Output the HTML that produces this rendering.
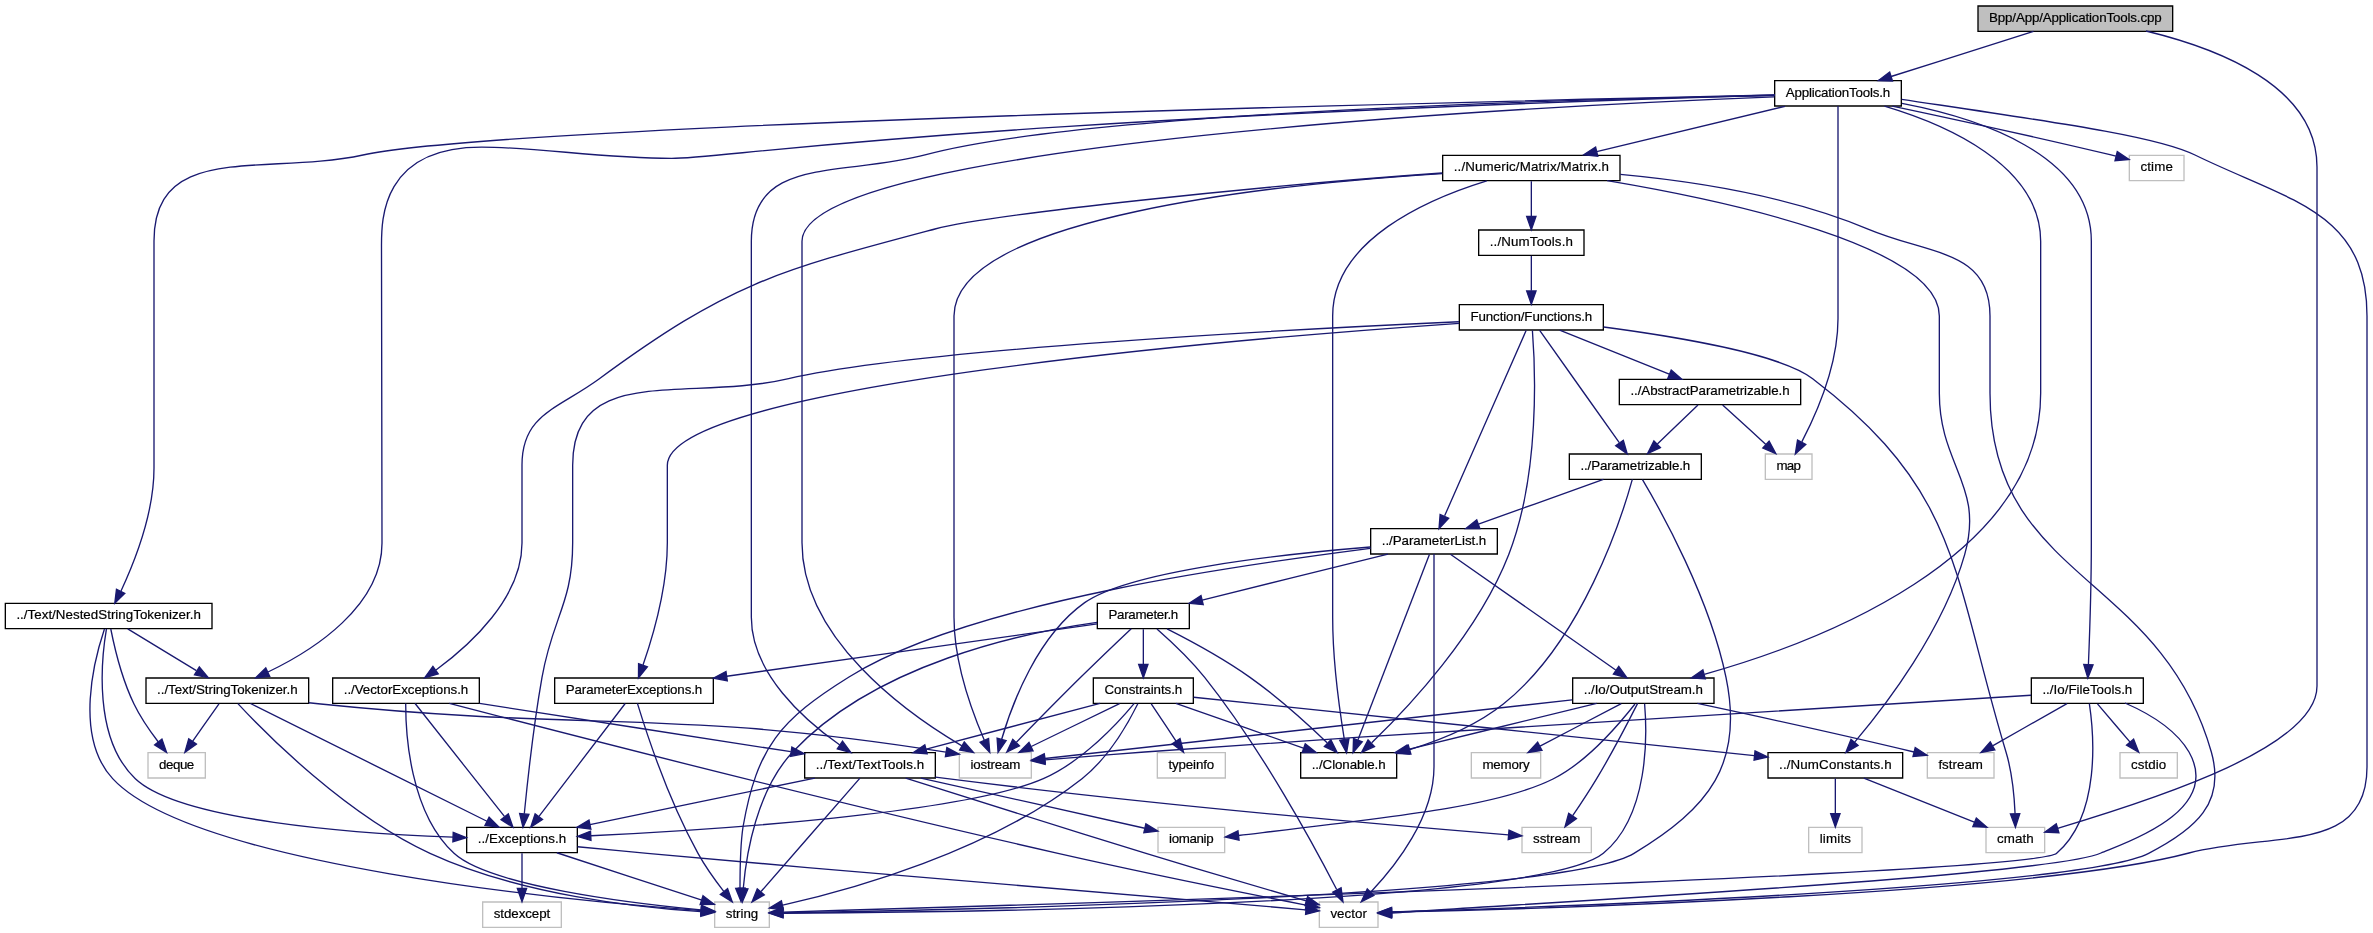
<!DOCTYPE html>
<html lang="en">
<head>
<meta charset="utf-8">
<title>Bpp/App/ApplicationTools.cpp include dependency graph</title>
<style>
html,body{margin:0;padding:0;background:#fff;}
body{width:2373px;height:933px;overflow:hidden;}
svg{display:block;}
svg{will-change:transform;}
svg text{font-family:"Liberation Sans",sans-serif;font-size:10px;text-anchor:middle;fill:#000;stroke:#000;stroke-width:0.15px;}
</style>
</head>
<body>
<svg width="2373" height="933" viewBox="0 0 1779.75 699.75">
<g transform="scale(1 1) rotate(0) translate(4 696)">
<polygon fill="white" stroke="none" points="-4,4 -4,-696 1775.5,-696 1775.5,4 -4,4"/>
<g>
<polygon fill="#bfbfbf" stroke="black" points="1479.5,-672.5 1479.5,-691.5 1625.5,-691.5 1625.5,-672.5 1479.5,-672.5"/>
<text x="1552.5" y="-679.50" textLength="129.40">Bpp/App/ApplicationTools.cpp</text>
</g>
<g>
<polygon fill="white" stroke="black" points="1327,-616.5 1327,-635.5 1422,-635.5 1422,-616.5 1327,-616.5"/>
<text x="1374.5" y="-623.50" textLength="78.40">ApplicationTools.h</text>
</g>
<g>
<path fill="none" stroke="midnightblue" d="M1521.12,-672.52C1485.53,-661.23 1449.92,-649.92 1414.32,-638.62"/>
<polygon fill="midnightblue" stroke="midnightblue" points="1413.27,-641.96 1404.79,-635.60 1415.38,-635.29 1413.27,-641.96"/>
</g>
<g>
<polygon fill="white" stroke="#bfbfbf" points="1485.5,-56.5 1485.5,-75.5 1529.5,-75.5 1529.5,-56.5 1485.5,-56.5"/>
<text x="1507.5" y="-63.50" textLength="27.40">cmath</text>
</g>
<g>
<path fill="none" stroke="midnightblue" d="M1605.50,-672.75C1658.00,-660.00 1733.75,-632.25 1733.75,-570.75 1733.75,-570.75 1733.75,-570.75 1733.75,-181.50 1733.75,-136.35 1618.48,-98.55 1539.20,-74.78"/>
<polygon fill="midnightblue" stroke="midnightblue" points="1538.21,-78.13 1529.61,-71.95 1540.19,-71.42 1538.21,-78.13"/>
</g>
<g>
<polygon fill="white" stroke="black" points="1519.5,-168.5 1519.5,-187.5 1603.5,-187.5 1603.5,-168.5 1519.5,-168.5"/>
<text x="1561.5" y="-175.50" textLength="67.40">../Io/FileTools.h</text>
</g>
<g>
<path fill="none" stroke="midnightblue" d="M1422.45,-618.42C1478.73,-607.68 1564.5,-580.56 1564.5,-515 1564.5,-515 1564.5,-515 1564.5,-289 1564.5,-256.94 1563.21,-219.63 1562.32,-197.74"/>
<polygon fill="midnightblue" stroke="midnightblue" points="1565.81,-197.4 1561.89,-187.56 1558.82,-197.69 1565.81,-197.4"/>
</g>
<g>
<polygon fill="white" stroke="#bfbfbf" points="985.5,-0.5 985.5,-19.5 1029.5,-19.5 1029.5,-0.5 985.5,-0.5"/>
<text x="1007.5" y="-7.50" textLength="27.40">vector</text>
</g>
<g>
<path fill="none" stroke="midnightblue" d="M1422.28,-621.52C1540.48,-603.83 1613.45,-593.85 1642.25,-579.75 1712.75,-545.25 1771.25,-537.75 1771.25,-459.00 1771.25,-459.00 1771.25,-459.00 1771.25,-120.75 1771.25,-54.75 1701.50,-72.75 1637.75,-56.25 1523.00,-25.50 1152.50,-14.25 1040.00,-12.00"/>
<polygon fill="midnightblue" stroke="midnightblue" points="1039.74,-8.19 1029.66,-11.46 1039.58,-15.19 1039.74,-8.19"/>
</g>
<g>
<polygon fill="white" stroke="#bfbfbf" points="715.5,-112.5 715.5,-131.5 769.5,-131.5 769.5,-112.5 715.5,-112.5"/>
<text x="742.5" y="-119.50" textLength="37.40">iostream</text>
</g>
<g>
<path fill="none" stroke="midnightblue" d="M1326.77,-623.3C1157.72,-616.65 597.5,-589.04 597.5,-515 597.5,-515 597.5,-515 597.5,-289 597.5,-216.96 675.92,-161.1 717.42,-136.59"/>
<polygon fill="midnightblue" stroke="midnightblue" points="719.22,-139.58 726.15,-131.57 715.73,-133.51 719.22,-139.58"/>
</g>
<g>
<polygon fill="white" stroke="black" points="1175.5,-168.5 1175.5,-187.5 1281.5,-187.5 1281.5,-168.5 1175.5,-168.5"/>
<text x="1228.5" y="-175.50" textLength="89.40">../Io/OutputStream.h</text>
</g>
<g>
<path fill="none" stroke="midnightblue" d="M1409.37,-616.4C1454.25,-603 1526.5,-572.49 1526.5,-515 1526.5,-515 1526.5,-515 1526.5,-401 1526.5,-276.7 1357.71,-213.75 1274.19,-190.22"/>
<polygon fill="midnightblue" stroke="midnightblue" points="1275.02,-186.81 1264.45,-187.54 1273.16,-193.56 1275.02,-186.81"/>
</g>
<g>
<polygon fill="white" stroke="black" points="599.5,-112.5 599.5,-131.5 697.5,-131.5 697.5,-112.5 599.5,-112.5"/>
<text x="648.5" y="-119.50" textLength="81.40">../Text/TextTools.h</text>
</g>
<g>
<path fill="none" stroke="midnightblue" d="M1326.91,-624.29C1192.31,-621.92 810.87,-612.43 690.5,-580 627.74,-563.09 559.5,-580 559.5,-515 559.5,-515 559.5,-515 559.5,-233 559.5,-190.85 599.49,-155.78 625.86,-137.24"/>
<polygon fill="midnightblue" stroke="midnightblue" points="627.88,-140.1 634.2,-131.6 623.96,-134.3 627.88,-140.1"/>
</g>
<g>
<polygon fill="white" stroke="black" points="105.5,-168.5 105.5,-187.5 227.5,-187.5 227.5,-168.5 105.5,-168.5"/>
<text x="166.5" y="-175.50" textLength="105.40">../Text/StringTokenizer.h</text>
</g>
<g>
<path fill="none" stroke="midnightblue" d="M1327.25,-624.75C703.78,-606.08 540.35,-577.20 499.78,-577.20 447.50,-577.20 398.75,-585.67 357.20,-585.67 282.12,-585.67 282.12,-531.30 282.12,-511.95 282.12,-471.00 282.12,-396.00 282.50,-288.75 282.50,-241.50 231.50,-208.50 197.00,-192.00"/>
<polygon fill="midnightblue" stroke="midnightblue" points="198.31,-188.69 187.78,-187.6 195.33,-195.02 198.31,-188.69"/>
</g>
<g>
<polygon fill="white" stroke="black" points="0,-224.5 0,-243.5 155,-243.5 155,-224.5 0,-224.5"/>
<text x="77.5" y="-231.50" textLength="138.40">../Text/NestedStringTokenizer.h</text>
</g>
<g>
<path fill="none" stroke="midnightblue" d="M1327.25,-624.75C585.88,-608.48 325.10,-591.90 268.25,-579.75 194.75,-564.00 111.50,-590.25 111.50,-515.25 111.50,-515.25 111.50,-515.25 111.50,-345.00 111.50,-311.25 96.50,-273.75 86.75,-252.75"/>
<polygon fill="midnightblue" stroke="midnightblue" points="89.64,-250.99 82.09,-243.56 83.36,-254.08 89.64,-250.99"/>
</g>
<g>
<polygon fill="white" stroke="black" points="1078,-560.5 1078,-579.5 1211,-579.5 1211,-560.5 1078,-560.5"/>
<text x="1144.5" y="-567.50" textLength="116.40">../Numeric/Matrix/Matrix.h</text>
</g>
<g>
<path fill="none" stroke="midnightblue" d="M1334.75,-616.27C1287.67,-604.95 1240.60,-593.62 1193.53,-582.30"/>
<polygon fill="midnightblue" stroke="midnightblue" points="1192.71,-585.70 1183.80,-579.96 1194.34,-578.90 1192.71,-585.70"/>
</g>
<g>
<polygon fill="white" stroke="#bfbfbf" points="1320,-336.5 1320,-355.5 1355,-355.5 1355,-336.5 1320,-336.5"/>
<text x="1337.5" y="-343.50" textLength="18.40">map</text>
</g>
<g>
<path fill="none" stroke="midnightblue" d="M1374.5,-616.44C1374.5,-597.94 1374.5,-552.81 1374.5,-515 1374.5,-515 1374.5,-515 1374.5,-457 1374.5,-422.89 1358.32,-385.79 1347.36,-364.57"/>
<polygon fill="midnightblue" stroke="midnightblue" points="1350.31,-362.66 1342.49,-355.51 1344.14,-365.98 1350.31,-362.66"/>
</g>
<g>
<polygon fill="white" stroke="#bfbfbf" points="1593,-560.5 1593,-579.5 1634,-579.5 1634,-560.5 1593,-560.5"/>
<text x="1613.5" y="-567.50" textLength="24.40">ctime</text>
</g>
<g>
<path fill="none" stroke="midnightblue" d="M1415.24,-616.45C1456.48,-607.69 1522.06,-593.48 1578.5,-580 1579.95,-579.65 1581.43,-579.29 1582.93,-578.93"/>
<polygon fill="midnightblue" stroke="midnightblue" points="1583.95,-582.28 1592.8,-576.45 1582.25,-575.49 1583.95,-582.28"/>
</g>
<g>
<polygon fill="white" stroke="#bfbfbf" points="532,-0.5 532,-19.5 573,-19.5 573,-0.5 532,-0.5"/>
<text x="552.5" y="-7.50" textLength="24.40">string</text>
</g>
<g>
<path fill="none" stroke="midnightblue" d="M1563.02,-168.26C1566.39,-145.62 1571.78,-84.86 1538.5,-56 1520.01,-39.97 748.99,-16.7 583.55,-11.89"/>
<polygon fill="midnightblue" stroke="midnightblue" points="583.22,-8.38 573.12,-11.59 583.02,-15.38 583.22,-8.38"/>
</g>
<g>
<path fill="none" stroke="midnightblue" d="M1589.75,-168.75C1607.00,-161.25 1627.25,-150.00 1637.75,-132.00 1663.25,-87.00 1587.50,-63.00 1571.75,-56.25 1534.77,-39.22 1145.45,-18.75 1040.00,-11.25"/>
<polygon fill="midnightblue" stroke="midnightblue" points="1039.69,-7.5 1029.68,-10.97 1039.67,-14.5 1039.69,-7.5"/>
</g>
<g>
<path fill="none" stroke="midnightblue" d="M1519.25,-174.56C1409.54,-168.16 1106.59,-150.15 854.5,-132 829.59,-130.21 801.57,-127.96 779.8,-126.15"/>
<polygon fill="midnightblue" stroke="midnightblue" points="779.9,-122.65 769.65,-125.31 779.32,-129.63 779.9,-122.65"/>
</g>
<g>
<polygon fill="white" stroke="#bfbfbf" points="1441.5,-112.5 1441.5,-131.5 1491.5,-131.5 1491.5,-112.5 1441.5,-112.5"/>
<text x="1466.5" y="-119.50" textLength="33.40">fstream</text>
</g>
<g>
<path fill="none" stroke="midnightblue" d="M1546.24,-168.32C1531.28,-159.82 1508.25,-146.73 1490.77,-136.8"/>
<polygon fill="midnightblue" stroke="midnightblue" points="1492.15,-133.55 1481.73,-131.65 1488.69,-139.64 1492.15,-133.55"/>
</g>
<g>
<polygon fill="white" stroke="#bfbfbf" points="1586,-112.5 1586,-131.5 1629,-131.5 1629,-112.5 1586,-112.5"/>
<text x="1607.5" y="-119.50" textLength="26.40">cstdio</text>
</g>
<g>
<path fill="none" stroke="midnightblue" d="M1569.1,-168.08C1575.73,-160.3 1585.52,-148.8 1593.56,-139.37"/>
<polygon fill="midnightblue" stroke="midnightblue" points="1596.23,-141.63 1600.05,-131.75 1590.9,-137.09 1596.23,-141.63"/>
</g>
<g>
<path fill="none" stroke="midnightblue" d="M1229.45,-168.2C1231.37,-145.43 1232.91,-84.36 1198.5,-56 1150.66,-16.57 705.61,-11.68 583.41,-11.08"/>
<polygon fill="midnightblue" stroke="midnightblue" points="583.26,-7.58 573.25,-11.04 583.23,-14.58 583.26,-7.58"/>
</g>
<g>
<path fill="none" stroke="midnightblue" d="M1175.1,-171.07C1075.8,-160.03 865.09,-136.62 779.65,-127.13"/>
<polygon fill="midnightblue" stroke="midnightblue" points="779.95,-123.64 769.63,-126.01 779.18,-130.6 779.95,-123.64"/>
</g>
<g>
<path fill="none" stroke="midnightblue" d="M1269.03,-168.43C1310.07,-159.66 1375.33,-145.44 1431.5,-132 1431.6,-131.98 1431.7,-131.95 1431.8,-131.93"/>
<polygon fill="midnightblue" stroke="midnightblue" points="1432.42,-135.38 1441.29,-129.59 1430.74,-128.58 1432.42,-135.38"/>
</g>
<g>
<polygon fill="white" stroke="black" points="971.5,-112.5 971.5,-131.5 1043.5,-131.5 1043.5,-112.5 971.5,-112.5"/>
<text x="1007.5" y="-119.50" textLength="55.40">../Clonable.h</text>
</g>
<g>
<path fill="none" stroke="midnightblue" d="M1193.48,-168.44C1155.25,-159.1 1093.93,-144.12 1052.24,-133.93"/>
<polygon fill="midnightblue" stroke="midnightblue" points="1052.9,-130.49 1042.35,-131.52 1051.24,-137.29 1052.9,-130.49"/>
</g>
<g>
<polygon fill="white" stroke="#bfbfbf" points="1137.5,-56.5 1137.5,-75.5 1189.5,-75.5 1189.5,-56.5 1137.5,-56.5"/>
<text x="1163.5" y="-63.50" textLength="35.40">sstream</text>
</g>
<g>
<path fill="none" stroke="midnightblue" d="M1224.22,-168.44C1217.86,-155.88 1205.38,-131.78 1193.5,-112 1187.88,-102.64 1181.18,-92.51 1175.53,-84.22"/>
<polygon fill="midnightblue" stroke="midnightblue" points="1178.29,-82.05 1169.73,-75.81 1172.52,-86.02 1178.29,-82.05"/>
</g>
<g>
<polygon fill="white" stroke="#bfbfbf" points="1099.5,-112.5 1099.5,-131.5 1151.5,-131.5 1151.5,-112.5 1099.5,-112.5"/>
<text x="1125.5" y="-119.50" textLength="35.40">memory</text>
</g>
<g>
<path fill="none" stroke="midnightblue" d="M1211.95,-168.32C1195.51,-159.7 1170.07,-146.36 1151.03,-136.39"/>
<polygon fill="midnightblue" stroke="midnightblue" points="1152.49,-133.2 1142.01,-131.65 1149.24,-139.4 1152.49,-133.2"/>
</g>
<g>
<polygon fill="white" stroke="#bfbfbf" points="864.5,-56.5 864.5,-75.5 914.5,-75.5 914.5,-56.5 864.5,-56.5"/>
<text x="889.5" y="-63.50" textLength="33.40">iomanip</text>
</g>
<g>
<path fill="none" stroke="midnightblue" d="M1222.25,-168.00C1211.00,-153.75 1187.75,-125.25 1160.75,-111.75 1120.93,-91.88 1052.97,-84.60 924.88,-69.38"/>
<polygon fill="midnightblue" stroke="midnightblue" points="924.46,-72.85 914.95,-68.19 925.29,-65.90 924.46,-72.85"/>
</g>
<g>
<path fill="none" stroke="midnightblue" d="M640.97,-112.37C624.98,-94.05 587.45,-51.05 566.78,-27.36"/>
<polygon fill="midnightblue" stroke="midnightblue" points="569.21,-24.82 560,-19.59 563.94,-29.43 569.21,-24.82"/>
</g>
<g>
<path fill="none" stroke="midnightblue" d="M675.25,-112.45C714.66,-99.88 790.65,-75.78 855.5,-56 896.89,-43.38 944.77,-29.28 975.56,-20.29"/>
<polygon fill="midnightblue" stroke="midnightblue" points="976.69,-23.61 985.31,-17.44 974.73,-16.89 976.69,-23.61"/>
</g>
<g>
<path fill="none" stroke="midnightblue" d="M697.52,-113.2C700.56,-112.77 703.57,-112.37 706.5,-112 862.68,-92.21 1049.82,-76.18 1127.24,-69.88"/>
<polygon fill="midnightblue" stroke="midnightblue" points="1127.74,-73.35 1137.42,-69.05 1127.17,-66.37 1127.74,-73.35"/>
</g>
<g>
<path fill="none" stroke="midnightblue" d="M686.69,-112.44C732.86,-102.1 809.93,-84.83 854.58,-74.82"/>
<polygon fill="midnightblue" stroke="midnightblue" points="855.41,-78.23 864.4,-72.62 853.88,-71.4 855.41,-78.23"/>
</g>
<g>
<polygon fill="white" stroke="black" points="346,-56.5 346,-75.5 429,-75.5 429,-56.5 346,-56.5"/>
<text x="387.5" y="-63.50" textLength="66.40">../Exceptions.h</text>
</g>
<g>
<path fill="none" stroke="midnightblue" d="M607.14,-112.44C561.42,-102.98 487.74,-87.74 438.48,-77.55"/>
<polygon fill="midnightblue" stroke="midnightblue" points="439.16,-74.12 428.66,-75.52 437.75,-80.97 439.16,-74.12"/>
</g>
<g>
<path fill="none" stroke="midnightblue" d="M413.64,-56.44C443.04,-46.82 490.71,-31.22 521.83,-21.04"/>
<polygon fill="midnightblue" stroke="midnightblue" points="523.29,-24.24 531.7,-17.81 521.11,-17.59 523.29,-24.24"/>
</g>
<g>
<path fill="none" stroke="midnightblue" d="M429.14,-60.92C445.46,-59.35 464.36,-57.55 481.5,-56 668.44,-39.05 892.93,-20.42 975.23,-13.65"/>
<polygon fill="midnightblue" stroke="midnightblue" points="975.77,-17.11 985.44,-12.81 975.19,-10.14 975.77,-17.11"/>
</g>
<g>
<polygon fill="white" stroke="#bfbfbf" points="358,-0.5 358,-19.5 417,-19.5 417,-0.5 358,-0.5"/>
<text x="387.5" y="-7.50" textLength="42.40">stdexcept</text>
</g>
<g>
<path fill="none" stroke="midnightblue" d="M387.5,-56.08C387.5,-49.01 387.5,-38.86 387.5,-29.99"/>
<polygon fill="midnightblue" stroke="midnightblue" points="391,-29.75 387.5,-19.75 384,-29.75 391,-29.75"/>
</g>
<g>
<path fill="none" stroke="midnightblue" d="M174.41,-168.28C195.42,-145.69 255.38,-85.04 318.5,-56 386.52,-24.71 475.32,-15.17 521.52,-12.27"/>
<polygon fill="midnightblue" stroke="midnightblue" points="521.99,-15.75 531.78,-11.69 521.6,-8.76 521.99,-15.75"/>
</g>
<g>
<path fill="none" stroke="midnightblue" d="M227.56,-168.96C230.58,-168.62 233.57,-168.3 236.5,-168 441.65,-146.97 497.95,-164.94 705.48,-131.89"/>
<polygon fill="midnightblue" stroke="midnightblue" points="706.16,-135.32 715.47,-130.28 705.04,-128.41 706.16,-135.32"/>
</g>
<g>
<path fill="none" stroke="midnightblue" d="M183.84,-168.37C222.41,-149.17 315.49,-102.84 361.23,-80.07"/>
<polygon fill="midnightblue" stroke="midnightblue" points="362.85,-83.18 370.24,-75.59 359.73,-76.91 362.85,-83.18"/>
</g>
<g>
<polygon fill="white" stroke="#bfbfbf" points="107,-112.5 107,-131.5 150,-131.5 150,-112.5 107,-112.5"/>
<text x="128.5" y="-119.50" textLength="26.40">deque</text>
</g>
<g>
<path fill="none" stroke="midnightblue" d="M160.23,-168.08C154.86,-160.46 146.98,-149.26 140.42,-139.94"/>
<polygon fill="midnightblue" stroke="midnightblue" points="143.28,-137.91 134.66,-131.75 137.55,-141.94 143.28,-137.91"/>
</g>
<g>
<path fill="none" stroke="midnightblue" d="M74.33,-224.27C66.92,-202.19 51.25,-143.62 80.5,-112 141.05,-46.55 427.07,-20.12 521.88,-13.07"/>
<polygon fill="midnightblue" stroke="midnightblue" points="522.25,-16.55 531.97,-12.34 521.74,-9.57 522.25,-16.55"/>
</g>
<g>
<path fill="none" stroke="midnightblue" d="M75.84,-224.4C72.09,-202.11 65.61,-142.12 97.5,-112 130.98,-80.38 261.75,-70.98 335.74,-68.18"/>
<polygon fill="midnightblue" stroke="midnightblue" points="335.91,-71.68 345.78,-67.83 335.67,-64.68 335.91,-71.68"/>
</g>
<g>
<path fill="none" stroke="midnightblue" d="M91.8,-224.32C105.68,-215.9 126.99,-202.97 143.3,-193.07"/>
<polygon fill="midnightblue" stroke="midnightblue" points="145.5,-195.83 152.24,-187.65 141.87,-189.85 145.5,-195.83"/>
</g>
<g>
<path fill="none" stroke="midnightblue" d="M79.09,-224.25C81.63,-211.44 87.27,-187.04 96.5,-168 101.35,-157.99 108.38,-147.81 114.61,-139.67"/>
<polygon fill="midnightblue" stroke="midnightblue" points="117.43,-141.75 120.93,-131.74 111.96,-137.38 117.43,-141.75"/>
</g>
<g>
<path fill="none" stroke="midnightblue" d="M1211.24,-565.2C1263.61,-560.34 1337.46,-549.25 1397.5,-524 1443.31,-504.73 1488.5,-508.7 1488.5,-459 1488.5,-459 1488.5,-459 1488.5,-401 1488.5,-260.51 1616.16,-267.15 1654.5,-132 1665.34,-93.79 1642.84,-74.12 1607.5,-56 1556.85,-30.04 1157.56,-15.66 1039.97,-11.97"/>
<polygon fill="midnightblue" stroke="midnightblue" points="1039.91,-8.46 1029.8,-11.65 1039.69,-15.46 1039.91,-8.46"/>
</g>
<g>
<path fill="none" stroke="midnightblue" d="M1077.79,-565.83C956.33,-558.23 711.5,-533.65 711.5,-459 711.5,-459 711.5,-459 711.5,-233 711.5,-199.41 725.06,-162.14 734.24,-140.75"/>
<polygon fill="midnightblue" stroke="midnightblue" points="737.44,-142.17 738.32,-131.61 731.05,-139.31 737.44,-142.17"/>
</g>
<g>
<path fill="none" stroke="midnightblue" d="M1111.06,-560.41C1067.13,-546.88 995.5,-516.07 995.5,-459 995.5,-459 995.5,-459 995.5,-233 995.5,-200.76 1000.66,-163.51 1004.21,-141.68"/>
<polygon fill="midnightblue" stroke="midnightblue" points="1007.71,-141.97 1005.93,-131.52 1000.81,-140.8 1007.71,-141.97"/>
</g>
<g>
<polygon fill="white" stroke="black" points="1322,-112.5 1322,-131.5 1423,-131.5 1423,-112.5 1322,-112.5"/>
<text x="1372.5" y="-119.50" textLength="84.40">../NumConstants.h</text>
</g>
<g>
<path fill="none" stroke="midnightblue" d="M1201.34,-560.48C1289.83,-545.6 1450.5,-511.36 1450.5,-459 1450.5,-459 1450.5,-459 1450.5,-401 1450.5,-346.56 1484.37,-332.37 1469.5,-280 1453.31,-222.99 1409.87,-166.39 1387.02,-139.38"/>
<polygon fill="midnightblue" stroke="midnightblue" points="1389.56,-136.97 1380.38,-131.69 1384.26,-141.55 1389.56,-136.97"/>
</g>
<g>
<polygon fill="white" stroke="black" points="1105,-504.5 1105,-523.5 1184,-523.5 1184,-504.5 1105,-504.5"/>
<text x="1144.5" y="-511.50" textLength="62.40">../NumTools.h</text>
</g>
<g>
<path fill="none" stroke="midnightblue" d="M1144.5,-560.08C1144.5,-553.01 1144.5,-542.86 1144.5,-533.99"/>
<polygon fill="midnightblue" stroke="midnightblue" points="1148,-533.75 1144.5,-523.75 1141,-533.75 1148,-533.75"/>
</g>
<g>
<polygon fill="white" stroke="black" points="245.5,-168.5 245.5,-187.5 355.5,-187.5 355.5,-168.5 245.5,-168.5"/>
<text x="300.5" y="-175.50" textLength="93.40">../VectorExceptions.h</text>
</g>
<g>
<path fill="none" stroke="midnightblue" d="M1077.50,-566.25C940.55,-556.65 739.03,-535.35 697.25,-524.25 578.75,-492.75 544.25,-484.50 445.25,-411.75 414.50,-389.25 387.50,-385.50 387.50,-347.25 387.50,-347.25 387.50,-347.25 387.50,-288.75 387.50,-247.50 348.50,-212.25 323.00,-193.50"/>
<polygon fill="midnightblue" stroke="midnightblue" points="324.68,-190.53 314.48,-187.68 320.68,-196.27 324.68,-190.53"/>
</g>
<g>
<path fill="none" stroke="midnightblue" d="M1393.89,-112.44C1416.21,-103.52 1451.4,-89.44 1476.71,-79.32"/>
<polygon fill="midnightblue" stroke="midnightblue" points="1478.22,-82.48 1486.21,-75.52 1475.62,-75.98 1478.22,-82.48"/>
</g>
<g>
<polygon fill="white" stroke="#bfbfbf" points="1352.5,-56.5 1352.5,-75.5 1392.5,-75.5 1392.5,-56.5 1352.5,-56.5"/>
<text x="1372.5" y="-63.50" textLength="23.40">limits</text>
</g>
<g>
<path fill="none" stroke="midnightblue" d="M1372.5,-112.08C1372.5,-105.01 1372.5,-94.86 1372.5,-85.99"/>
<polygon fill="midnightblue" stroke="midnightblue" points="1376,-85.75 1372.5,-75.75 1369,-85.75 1376,-85.75"/>
</g>
<g>
<polygon fill="white" stroke="black" points="1090.5,-448.5 1090.5,-467.5 1198.5,-467.5 1198.5,-448.5 1090.5,-448.5"/>
<text x="1144.5" y="-455.50" textLength="91.40">Function/Functions.h</text>
</g>
<g>
<path fill="none" stroke="midnightblue" d="M1144.5,-504.08C1144.5,-497.01 1144.5,-486.86 1144.5,-477.99"/>
<polygon fill="midnightblue" stroke="midnightblue" points="1148,-477.75 1144.5,-467.75 1141,-477.75 1148,-477.75"/>
</g>
<g>
<path fill="none" stroke="midnightblue" d="M1145.31,-448.14C1147.38,-421.57 1151.2,-340.67 1127.5,-280 1104.42,-220.92 1052.09,-165.29 1024.8,-138.94"/>
<polygon fill="midnightblue" stroke="midnightblue" points="1026.86,-136.07 1017.19,-131.73 1022.04,-141.15 1026.86,-136.07"/>
</g>
<g>
<path fill="none" stroke="midnightblue" d="M1090.21,-454.69C969.5,-449.22 682.06,-434.25 587.5,-412 511.98,-394.23 425.5,-424.58 425.5,-347 425.5,-347 425.5,-347 425.5,-289 425.5,-242.96 410.45,-233.35 402.5,-188 396.18,-151.99 391.56,-109.48 389.22,-85.65"/>
<polygon fill="midnightblue" stroke="midnightblue" points="392.69,-85.18 388.26,-75.55 385.73,-85.84 392.69,-85.18"/>
</g>
<g>
<path fill="none" stroke="midnightblue" d="M1198.7,-450.76C1252.81,-443.61 1331.3,-430.45 1355.5,-412 1466.93,-327.02 1460.08,-266.19 1500.5,-132 1505.06,-116.87 1506.73,-98.97 1507.3,-85.79"/>
<polygon fill="midnightblue" stroke="midnightblue" points="1510.81,-85.7 1507.57,-75.61 1503.81,-85.52 1510.81,-85.7"/>
</g>
<g>
<polygon fill="white" stroke="black" points="1024,-280.5 1024,-299.5 1119,-299.5 1119,-280.5 1024,-280.5"/>
<text x="1071.5" y="-287.50" textLength="78.40">../ParameterList.h</text>
</g>
<g>
<path fill="none" stroke="midnightblue" d="M1140.58,-448.08C1129.03,-421.83 1095.05,-344.55 1079.47,-309.12"/>
<polygon fill="midnightblue" stroke="midnightblue" points="1082.5,-307.31 1075.27,-299.57 1076.09,-310.13 1082.5,-307.31"/>
</g>
<g>
<polygon fill="white" stroke="black" points="412,-168.5 412,-187.5 531,-187.5 531,-168.5 412,-168.5"/>
<text x="471.5" y="-175.50" textLength="102.40">ParameterExceptions.h</text>
</g>
<g>
<path fill="none" stroke="midnightblue" d="M1090.37,-453.5C934.63,-442.72 496.5,-407.05 496.5,-347 496.5,-347 496.5,-347 496.5,-289 496.5,-256 485.67,-218.77 478.26,-197.19"/>
<polygon fill="midnightblue" stroke="midnightblue" points="481.53,-195.93 474.87,-187.69 474.93,-198.28 481.53,-195.93"/>
</g>
<g>
<polygon fill="white" stroke="black" points="1173,-336.5 1173,-355.5 1272,-355.5 1272,-336.5 1173,-336.5"/>
<text x="1222.5" y="-343.50" textLength="82.40">../Parametrizable.h</text>
</g>
<g>
<path fill="none" stroke="midnightblue" d="M1150.62,-448.37C1163.49,-430.22 1193.57,-387.8 1210.45,-363.99"/>
<polygon fill="midnightblue" stroke="midnightblue" points="1213.48,-365.77 1216.41,-355.59 1207.77,-361.72 1213.48,-365.77"/>
</g>
<g>
<polygon fill="white" stroke="black" points="1210.5,-392.5 1210.5,-411.5 1346.5,-411.5 1346.5,-392.5 1210.5,-392.5"/>
<text x="1278.5" y="-399.50" textLength="119.40">../AbstractParametrizable.h</text>
</g>
<g>
<path fill="none" stroke="midnightblue" d="M1165.73,-448.44C1187.88,-439.52 1222.82,-425.44 1247.94,-415.32"/>
<polygon fill="midnightblue" stroke="midnightblue" points="1249.4,-418.5 1257.37,-411.52 1246.78,-412.01 1249.4,-418.5"/>
</g>
<g>
<path fill="none" stroke="midnightblue" d="M1024.03,-284.78C949.47,-275.10 727.40,-247.28 632.75,-188.25 581.00,-156.00 563.75,-135.75 553.25,-75.75 551.00,-60.75 551.00,-42.75 551.00,-30.00"/>
<polygon fill="midnightblue" stroke="midnightblue" points="554.75,-30.08 551.77,-19.91 547.76,-29.72 554.75,-30.08"/>
</g>
<g>
<path fill="none" stroke="midnightblue" d="M1071.5,-280.44C1071.5,-261.94 1071.5,-216.81 1071.5,-179 1071.5,-179 1071.5,-179 1071.5,-121 1071.5,-83.33 1043.11,-47.04 1024.15,-27.01"/>
<polygon fill="midnightblue" stroke="midnightblue" points="1026.45,-24.36 1016.94,-19.69 1021.46,-29.27 1026.45,-24.36"/>
</g>
<g>
<path fill="none" stroke="midnightblue" d="M1023.79,-285.73C957.85,-280.39 843.18,-267.92 809.5,-244 774.06,-218.82 755.23,-168.74 747.25,-141.57"/>
<polygon fill="midnightblue" stroke="midnightblue" points="750.58,-140.48 744.55,-131.77 743.83,-142.34 750.58,-140.48"/>
</g>
<g>
<path fill="none" stroke="midnightblue" d="M1083.82,-280.37C1110.65,-261.57 1174.59,-216.77 1207.76,-193.53"/>
<polygon fill="midnightblue" stroke="midnightblue" points="1210.06,-196.2 1216.24,-187.59 1206.04,-190.46 1210.06,-196.2"/>
</g>
<g>
<path fill="none" stroke="midnightblue" d="M1068.06,-280.08C1057.94,-253.83 1028.14,-176.55 1014.48,-141.12"/>
<polygon fill="midnightblue" stroke="midnightblue" points="1017.67,-139.64 1010.8,-131.57 1011.14,-142.16 1017.67,-139.64"/>
</g>
<g>
<polygon fill="white" stroke="black" points="819,-224.5 819,-243.5 888,-243.5 888,-224.5 819,-224.5"/>
<text x="853.5" y="-231.50" textLength="52.40">Parameter.h</text>
</g>
<g>
<path fill="none" stroke="midnightblue" d="M1036.96,-280.44C999.25,-271.1 938.76,-256.12 897.64,-245.93"/>
<polygon fill="midnightblue" stroke="midnightblue" points="898.43,-242.52 887.88,-243.52 896.75,-249.32 898.43,-242.52"/>
</g>
<g>
<path fill="none" stroke="midnightblue" d="M818.78,-229.28C762.81,-221.45 652.62,-198.12 590.5,-132 563.58,-103.34 555.72,-55.79 553.44,-29.65"/>
<polygon fill="midnightblue" stroke="midnightblue" points="556.92,-29.31 552.74,-19.58 549.94,-29.79 556.92,-29.31"/>
</g>
<g>
<path fill="none" stroke="midnightblue" d="M863.73,-224.34C873.56,-215.72 888.51,-201.81 899.5,-188 942.38,-134.11 981.48,-61.93 998.51,-28.88"/>
<polygon fill="midnightblue" stroke="midnightblue" points="1001.82,-30.1 1003.24,-19.6 995.58,-26.92 1001.82,-30.1"/>
</g>
<g>
<path fill="none" stroke="midnightblue" d="M844.41,-224.45C834.89,-215.46 819.53,-200.85 806.5,-188 789.88,-171.61 771.18,-152.54 758.31,-139.32"/>
<polygon fill="midnightblue" stroke="midnightblue" points="760.59,-136.65 751.11,-131.91 755.57,-141.52 760.59,-136.65"/>
</g>
<g>
<path fill="none" stroke="midnightblue" d="M871.3,-224.35C887.95,-215.94 913.22,-202.37 933.5,-188 954.73,-172.96 976.86,-152.84 991.32,-138.99"/>
<polygon fill="midnightblue" stroke="midnightblue" points="994.15,-141.12 998.89,-131.64 989.28,-136.1 994.15,-141.12"/>
</g>
<g>
<path fill="none" stroke="midnightblue" d="M818.93,-228.11C756.34,-219.27 623.15,-200.44 541.07,-188.83"/>
<polygon fill="midnightblue" stroke="midnightblue" points="541.47,-185.36 531.08,-187.42 540.49,-192.29 541.47,-185.36"/>
</g>
<g>
<polygon fill="white" stroke="black" points="816,-168.5 816,-187.5 891,-187.5 891,-168.5 816,-168.5"/>
<text x="853.5" y="-175.50" textLength="58.40">Constraints.h</text>
</g>
<g>
<path fill="none" stroke="midnightblue" d="M853.5,-224.08C853.5,-217.01 853.5,-206.86 853.5,-197.99"/>
<polygon fill="midnightblue" stroke="midnightblue" points="857,-197.75 853.5,-187.75 850,-197.75 857,-197.75"/>
</g>
<g>
<path fill="none" stroke="midnightblue" d="M474.06,-168.45C480.29,-148.19 497.41,-95.95 519.5,-56 525.01,-46.04 532.41,-35.74 538.81,-27.52"/>
<polygon fill="midnightblue" stroke="midnightblue" points="541.7,-29.51 545.22,-19.52 536.24,-25.13 541.7,-29.51"/>
</g>
<g>
<path fill="none" stroke="midnightblue" d="M464.91,-168.37C450.98,-150.14 418.37,-107.43 400.23,-83.68"/>
<polygon fill="midnightblue" stroke="midnightblue" points="402.91,-81.41 394.06,-75.59 397.35,-85.66 402.91,-81.41"/>
</g>
<g>
<path fill="none" stroke="midnightblue" d="M849.38,-168.2C842.51,-154.42 827.5,-127.72 807.5,-112 737.59,-57.07 634.01,-28.54 583.06,-17.12"/>
<polygon fill="midnightblue" stroke="midnightblue" points="583.53,-13.64 573.02,-14.94 582.05,-20.48 583.53,-13.64"/>
</g>
<g>
<path fill="none" stroke="midnightblue" d="M835.67,-168.32C817.78,-159.62 790.02,-146.12 769.45,-136.11"/>
<polygon fill="midnightblue" stroke="midnightblue" points="770.81,-132.88 760.29,-131.65 767.75,-139.18 770.81,-132.88"/>
</g>
<g>
<path fill="none" stroke="midnightblue" d="M877.9,-168.44C903.7,-159.4 944.58,-145.06 973.52,-134.92"/>
<polygon fill="midnightblue" stroke="midnightblue" points="974.93,-138.13 983.21,-131.52 972.62,-131.52 974.93,-138.13"/>
</g>
<g>
<path fill="none" stroke="midnightblue" d="M821.02,-168.44C785.78,-159.16 729.4,-144.31 690.74,-134.13"/>
<polygon fill="midnightblue" stroke="midnightblue" points="691.39,-130.68 680.83,-131.52 689.61,-137.45 691.39,-130.68"/>
</g>
<g>
<path fill="none" stroke="midnightblue" d="M846.71,-168.44C834.7,-153.98 808.15,-125.04 778.5,-112 718.88,-85.78 531.2,-73.65 439.27,-69.17"/>
<polygon fill="midnightblue" stroke="midnightblue" points="439.24,-65.67 429.08,-68.69 438.9,-72.66 439.24,-65.67"/>
</g>
<g>
<path fill="none" stroke="midnightblue" d="M891.24,-173.07C980.16,-163.82 1203.45,-140.59 1311.73,-129.32"/>
<polygon fill="midnightblue" stroke="midnightblue" points="1312.26,-132.79 1321.85,-128.27 1311.54,-125.82 1312.26,-132.79"/>
</g>
<g>
<polygon fill="white" stroke="#bfbfbf" points="864,-112.5 864,-131.5 915,-131.5 915,-112.5 864,-112.5"/>
<text x="889.5" y="-119.50" textLength="34.40">typeinfo</text>
</g>
<g>
<path fill="none" stroke="midnightblue" d="M859.44,-168.08C864.48,-160.53 871.84,-149.49 878.01,-140.23"/>
<polygon fill="midnightblue" stroke="midnightblue" points="881.03,-142.01 883.67,-131.75 875.21,-138.13 881.03,-142.01"/>
</g>
<g>
<path fill="none" stroke="midnightblue" d="M1227.85,-336.23C1241.62,-313.07 1278.08,-247.92 1290.5,-188 1303.93,-123.18 1278.18,-90.2 1221.5,-56 1166.41,-22.76 707.54,-13.37 583.38,-11.43"/>
<polygon fill="midnightblue" stroke="midnightblue" points="583.12,-7.92 573.07,-11.27 583.01,-14.92 583.12,-7.92"/>
</g>
<g>
<path fill="none" stroke="midnightblue" d="M1220.25,-336.46C1212.3,-307.95 1182.73,-215.15 1123.5,-168 1103.11,-151.77 1076.18,-140.84 1053.39,-133.82"/>
<polygon fill="midnightblue" stroke="midnightblue" points="1054.17,-130.4 1043.59,-130.96 1052.2,-137.12 1054.17,-130.4"/>
</g>
<g>
<path fill="none" stroke="midnightblue" d="M1198.57,-336.44C1173.28,-327.4 1133.2,-313.06 1104.82,-302.92"/>
<polygon fill="midnightblue" stroke="midnightblue" points="1105.91,-299.59 1095.31,-299.52 1103.55,-306.18 1105.91,-299.59"/>
</g>
<g>
<path fill="none" stroke="midnightblue" d="M1269.5,-392.32C1261.31,-384.42 1248.99,-372.55 1239.03,-362.94"/>
<polygon fill="midnightblue" stroke="midnightblue" points="1241.29,-360.26 1231.66,-355.83 1236.43,-365.29 1241.29,-360.26"/>
</g>
<g>
<path fill="none" stroke="midnightblue" d="M1287.98,-392.32C1296.7,-384.34 1309.84,-372.31 1320.4,-362.65"/>
<polygon fill="midnightblue" stroke="midnightblue" points="1322.83,-365.17 1327.85,-355.83 1318.11,-360 1322.83,-365.17"/>
</g>
<g>
<path fill="none" stroke="midnightblue" d="M300.28,-168.45C300.21,-146.29 303.27,-86.56 336.5,-56 363.21,-31.44 468.68,-18.59 521.71,-13.56"/>
<polygon fill="midnightblue" stroke="midnightblue" points="522.24,-17.03 531.88,-12.63 521.61,-10.06 522.24,-17.03"/>
</g>
<g>
<path fill="none" stroke="midnightblue" d="M333.01,-168.49C411.34,-148.09 616.79,-95.18 789.5,-56 855.34,-41.07 932.84,-25.56 975.42,-17.21"/>
<polygon fill="midnightblue" stroke="midnightblue" points="976.33,-20.6 985.47,-15.25 974.98,-13.73 976.33,-20.6"/>
</g>
<g>
<path fill="none" stroke="midnightblue" d="M355.64,-168.44C419.31,-158.56 523.66,-142.37 589.09,-132.22"/>
<polygon fill="midnightblue" stroke="midnightblue" points="589.9,-135.64 599.24,-130.64 588.82,-128.72 589.9,-135.64"/>
</g>
<g>
<path fill="none" stroke="midnightblue" d="M307.33,-168.37C321.75,-150.14 355.53,-107.43 374.31,-83.68"/>
<polygon fill="midnightblue" stroke="midnightblue" points="377.25,-85.61 380.7,-75.59 371.76,-81.26 377.25,-85.61"/>
</g>
</g>
</svg>

</body>
</html>
